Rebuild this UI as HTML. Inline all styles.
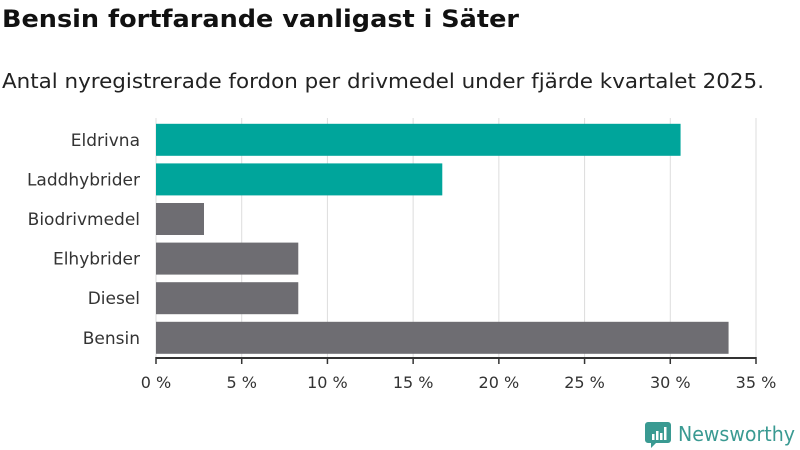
<!DOCTYPE html>
<html><head><meta charset="utf-8"><style>
body{margin:0;width:800px;height:450px;background:#fff;font-family:"DejaVu Sans","Liberation Sans",sans-serif;overflow:hidden}
svg{display:block}
</style></head><body>
<svg width="800" height="450">
<text x="2" y="27" font-size="24" font-weight="bold" fill="#111" textLength="517" lengthAdjust="spacingAndGlyphs">Bensin fortfarande vanligast i Säter</text>
<text x="2" y="88" font-size="20" fill="#222" textLength="762" lengthAdjust="spacingAndGlyphs">Antal nyregistrerade fordon per drivmedel under fjärde kvartalet 2025.</text>
<g id="grid"></g><g id="bars"></g><g id="axis"></g>
<g>
<path d="M648 422 h20 a3 3 0 0 1 3 3 v15 a3 3 0 0 1 -3 3 h-12 l-5 5 v-5 h-3 a3 3 0 0 1 -3 -3 v-15 a3 3 0 0 1 3 -3z" fill="#3a9a92"/>
<rect x="652" y="434" width="2.5" height="6" fill="#fff"/><rect x="656" y="431" width="2.5" height="9" fill="#fff"/><rect x="660" y="433" width="2.5" height="7" fill="#fff"/><rect x="664" y="427" width="2.5" height="13" fill="#fff"/>
<text x="678" y="441" font-size="20" fill="#3a9a92" textLength="117" lengthAdjust="spacingAndGlyphs">Newsworthy</text>
</g>
</svg>
<script>
const categories=["Eldrivna","Laddhybrider","Biodrivmedel","Elhybrider","Diesel","Bensin"];
const values=[30.6,16.7,2.8,8.3,8.3,33.4];
const colors=["#00a59b","#00a59b","#6e6d72","#6e6d72","#6e6d72","#6e6d72"];
const ticks=[0,5,10,15,20,25,30,35];
const ns="http://www.w3.org/2000/svg";
const x=v=>156+v*600/35;
const y0=120,band=39.6,bh=32;
function mk(t,a,p){const e=document.createElementNS(ns,t);for(const k in a)e.setAttribute(k,a[k]);p.appendChild(e);return e;}
const grid=document.getElementById('grid'),bars=document.getElementById('bars'),axis=document.getElementById('axis');
ticks.forEach(t=>{
 const g=mk('line',{x1:x(t),x2:x(t),y1:118,y2:358,stroke:'#ddd','stroke-width':1},grid);
 
 
 const tk=mk('line',{x1:x(t),x2:x(t),y1:357,y2:364,stroke:'#333','stroke-width':1.5},axis);
 
 
 const l=mk('text',{x:x(t),y:388,'font-size':16,fill:'#333','text-anchor':'middle'},axis);
 l.textContent=t+' %';
 
 
});
const al=mk('line',{x1:x(0),x2:x(35),y1:358,y2:358,stroke:'#333','stroke-width':2},axis);


categories.forEach((c,i)=>{
 const yy=y0+i*band+(band-bh)/2;
 const r=mk('rect',{x:x(0),y:yy,width:x(values[i])-x(0),height:bh,fill:colors[i]},bars);
 
 
 const l=mk('text',{x:140,y:yy+bh/2+6,'font-size':17,fill:'#333','text-anchor':'end'},bars);
 l.textContent=c;
 
 
});
</script>
</body></html>
